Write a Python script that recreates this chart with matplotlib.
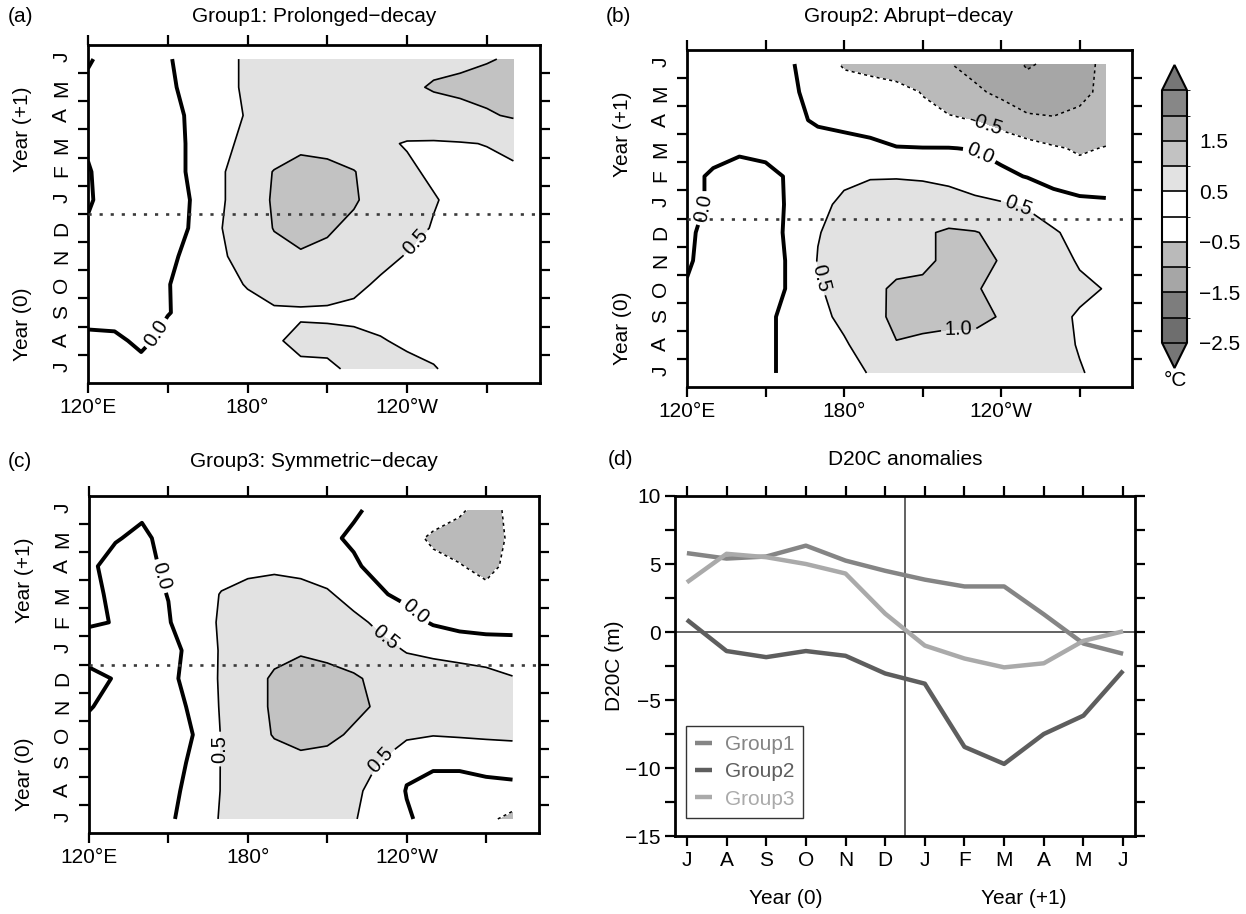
import numpy as np
import matplotlib
matplotlib.use("Agg")
import matplotlib.pyplot as plt
import matplotlib.transforms as mtransforms
from matplotlib.colors import ListedColormap, BoundaryNorm
from matplotlib.cm import ScalarMappable

plt.rcParams['font.family'] = ['Liberation Sans', 'DejaVu Sans']
plt.rcParams['axes.linewidth'] = 2.0

W, H = 1246, 914

# grid of the Hovmoller panels: 120E .. 80W every 10 deg, Jul(0) .. Jun(+1)
lons = np.arange(120, 290, 10)
months = np.arange(12)
month_labels = ['J', 'A', 'S', 'O', 'N', 'D', 'J', 'F', 'M', 'A', 'M', 'J']
lon_ticks = [120, 150, 180, 210, 240, 270]
lon_labels = ['120°E', '', '180°', '', '120°W', '']

sst_levels = [-2.5, -2.0, -1.5, -1.0, -0.5, 0.0, 0.5, 1.0, 1.5, 2.0, 2.5]
sst_colors = ['#6e6e6e', '#7d7d7d', '#a6a6a6', '#bababa', 'white',
              'white', '#e2e2e2', '#c2c2c2', '#a6a6a6', '#878787']
cbar_ticks = [-2.5, -1.5, -0.5, 0.5, 1.5]

# SST anomalies (degC), one row per month (Jul(0) first), one column per longitude
group1_sst = [
    [0.10, 0.15, 0.15, 0.20, 0.25, 0.30, 0.35, 0.40, 0.42, 0.45, 0.55, 0.60, 0.58, 0.52, 0.40, 0.30, 0.25],
    [0.10, 0.10, -0.10, 0.15, 0.25, 0.30, 0.38, 0.45, 0.60, 0.58, 0.58, 0.52, 0.45, 0.40, 0.35, 0.30, 0.25],
    [-0.15, -0.20, -0.15, -0.02, 0.15, 0.30, 0.40, 0.45, 0.45, 0.45, 0.42, 0.40, 0.35, 0.32, 0.30, 0.28, 0.25],
    [-0.15, -0.20, -0.15, -0.02, 0.20, 0.40, 0.52, 0.65, 0.70, 0.65, 0.58, 0.45, 0.40, 0.35, 0.30, 0.28, 0.25],
    [-0.10, -0.20, -0.15, -0.10, 0.15, 0.45, 0.65, 0.85, 0.95, 0.90, 0.80, 0.60, 0.48, 0.40, 0.35, 0.30, 0.25],
    [-0.05, -0.20, -0.15, -0.10, 0.03, 0.49, 0.70, 1.02, 1.15, 1.05, 0.90, 0.70, 0.60, 0.48, 0.40, 0.30, 0.25],
    [0.05, -0.20, -0.15, -0.10, 0.02, 0.45, 0.75, 1.05, 1.20, 1.15, 1.05, 0.80, 0.65, 0.52, 0.42, 0.35, 0.30],
    [0.03, -0.20, -0.15, -0.10, 0.05, 0.45, 0.75, 1.02, 1.15, 1.10, 1.02, 0.75, 0.55, 0.45, 0.42, 0.42, 0.45],
    [-0.05, -0.20, -0.15, -0.10, 0.05, 0.40, 0.60, 0.75, 0.90, 0.88, 0.70, 0.55, 0.48, 0.47, 0.48, 0.51, 0.58],
    [-0.10, -0.20, -0.15, -0.08, 0.05, 0.40, 0.52, 0.60, 0.65, 0.65, 0.65, 0.65, 0.70, 0.75, 0.85, 0.95, 1.05],
    [-0.10, -0.20, -0.15, -0.05, 0.10, 0.40, 0.55, 0.62, 0.65, 0.70, 0.75, 0.80, 0.90, 1.05, 1.10, 1.15, 1.15],
    [0.05, -0.20, -0.15, -0.03, 0.15, 0.40, 0.55, 0.62, 0.65, 0.70, 0.72, 0.75, 0.80, 0.85, 0.90, 0.97, 1.05],
]

group2_sst = [
    [-0.10, -0.15, -0.20, -0.08, 0.12, 0.25, 0.38, 0.52, 0.70, 0.75, 0.75, 0.72, 0.70, 0.65, 0.58, 0.52, 0.42],
    [-0.10, -0.15, -0.20, -0.10, 0.15, 0.30, 0.45, 0.70, 0.98, 0.90, 0.88, 0.90, 0.85, 0.75, 0.60, 0.48, 0.38],
    [-0.10, -0.15, -0.20, -0.10, 0.15, 0.38, 0.60, 0.85, 1.10, 1.15, 1.10, 1.08, 0.98, 0.80, 0.62, 0.45, 0.35],
    [-0.02, -0.10, -0.20, -0.15, 0.05, 0.45, 0.70, 0.92, 1.05, 1.05, 1.08, 1.03, 0.90, 0.80, 0.70, 0.60, 0.48],
    [0.03, -0.10, -0.20, -0.15, 0.05, 0.52, 0.68, 0.80, 0.90, 0.95, 1.05, 1.10, 0.98, 0.85, 0.70, 0.45, 0.30],
    [0.05, -0.10, -0.20, -0.15, 0.08, 0.48, 0.65, 0.75, 0.85, 0.95, 1.05, 1.02, 0.90, 0.72, 0.55, 0.35, 0.25],
    [0.10, -0.05, -0.15, -0.12, 0.05, 0.40, 0.58, 0.65, 0.70, 0.75, 0.72, 0.62, 0.55, 0.45, 0.25, 0.15, 0.12],
    [0.10, -0.05, -0.12, -0.10, 0.05, 0.30, 0.42, 0.48, 0.48, 0.45, 0.38, 0.25, 0.10, -0.02, -0.20, -0.35, -0.40],
    [0.15, 0.12, 0.05, 0.10, 0.12, 0.10, 0.08, 0.06, 0.02, 0.01, 0.01, -0.02, -0.15, -0.30, -0.45, -0.55, -0.48],
    [0.15, 0.15, 0.12, 0.10, 0.05, -0.03, -0.06, -0.10, -0.30, -0.38, -0.45, -0.51, -0.70, -0.90, -0.95, -0.90, -0.75],
    [0.15, 0.15, 0.10, 0.08, 0.06, -0.15, -0.30, -0.30, -0.35, -0.52, -0.70, -0.92, -1.10, -1.30, -1.30, -1.10, -0.90],
    [0.15, 0.15, 0.12, 0.10, 0.03, -0.25, -0.55, -0.65, -0.75, -0.85, -0.98, -1.15, -1.25, -1.55, -1.40, -1.15, -0.90],
]

group3_sst = [
    [-0.12, -0.15, -0.20, -0.05, 0.15, 0.55, 0.68, 0.75, 0.75, 0.68, 0.53, 0.30, 0.05, -0.15, -0.25, -0.38, -0.65],
    [-0.12, -0.15, -0.20, -0.08, 0.10, 0.52, 0.70, 0.80, 0.82, 0.75, 0.58, 0.35, -0.02, -0.12, -0.12, -0.10, -0.10],
    [-0.12, -0.15, -0.20, -0.10, 0.05, 0.52, 0.75, 0.88, 0.92, 0.88, 0.72, 0.48, 0.08, 0.05, 0.05, 0.10, 0.15],
    [-0.10, -0.15, -0.20, -0.12, 0.01, 0.52, 0.85, 1.02, 1.10, 1.08, 0.95, 0.75, 0.60, 0.52, 0.55, 0.58, 0.60],
    [0.02, -0.10, -0.20, -0.10, 0.05, 0.55, 0.85, 1.05, 1.15, 1.15, 1.08, 0.95, 0.80, 0.72, 0.70, 0.68, 0.60],
    [0.10, -0.02, -0.20, -0.12, 0.20, 0.55, 0.85, 1.05, 1.12, 1.10, 1.05, 0.90, 0.70, 0.62, 0.60, 0.58, 0.52],
    [-0.15, -0.15, -0.20, -0.15, 0.15, 0.55, 0.75, 0.90, 0.97, 0.92, 0.80, 0.62, 0.48, 0.45, 0.42, 0.38, 0.30],
    [0.03, -0.01, -0.15, -0.03, 0.30, 0.55, 0.65, 0.70, 0.72, 0.70, 0.60, 0.42, 0.20, -0.05, -0.20, -0.28, -0.25],
    [0.10, -0.08, -0.12, 0.01, 0.30, 0.52, 0.60, 0.62, 0.60, 0.55, 0.35, 0.05, -0.12, -0.25, -0.30, -0.40, -0.30],
    [0.05, -0.10, -0.08, 0.05, 0.25, 0.35, 0.42, 0.45, 0.42, 0.30, 0.05, -0.12, -0.30, -0.42, -0.48, -0.60, -0.40],
    [0.12, 0.02, -0.06, 0.10, 0.18, 0.22, 0.25, 0.25, 0.18, 0.06, -0.05, -0.25, -0.40, -0.55, -0.65, -0.70, -0.42],
    [0.15, 0.10, 0.05, 0.15, 0.20, 0.22, 0.25, 0.25, 0.20, 0.12, 0.04, -0.08, -0.20, -0.35, -0.45, -0.65, -0.40],
]

# D20C anomalies (m), Jul(0) .. Jun(+1)
d20c_group1 = [5.8, 5.4, 5.55, 6.35, 5.25, 4.5, 3.85, 3.35, 3.35, 1.3, -0.85, -1.6]
d20c_group2 = [0.9, -1.4, -1.85, -1.4, -1.75, -3.05, -3.8, -8.45, -9.7, -7.5, -6.15, -2.85]
d20c_group3 = [3.65, 5.75, 5.5, 5.0, 4.3, 1.35, -1.0, -1.95, -2.6, -2.3, -0.65, 0.05]
group_names = ['Group1', 'Group2', 'Group3']
group_colors = ['#858585', '#5e5e5e', '#aaaaaa']

cmap = ListedColormap(sst_colors)
cmap.set_under('#767676')
cmap.set_over('#767676')
norm = BoundaryNorm(sst_levels, len(sst_colors))


def rect(x0, y0, x1, y1):
    return [x0 / W, 1 - y1 / H, (x1 - x0) / W, (y1 - y0) / H]


fig = plt.figure(figsize=(W / 100, H / 100), dpi=100)


def hovmoller(ax, left_px, field, zero_pts, pos_pts, neg_pts):
    z = np.array(field)
    ax.contourf(lons, months, z, levels=sst_levels, cmap=cmap, norm=norm, extend='both')
    neg = [l for l in (-1.5, -1.0, -0.5) if z.min() < l]
    if neg:
        cn = ax.contour(lons, months, z, levels=neg, colors='black',
                        linewidths=1.1, linestyles=[(0, (2.0, 2.2))])
        if neg_pts:
            ax.clabel(cn, fmt='%.1f', fontsize=14.5, manual=neg_pts)
    cz = ax.contour(lons, months, z, levels=[0.0], colors='black', linewidths=2.8)
    ax.clabel(cz, fmt='%.1f', fontsize=14.5, manual=zero_pts)
    pos = [l for l in (0.5, 1.0, 1.5) if z.max() > l]
    cp = ax.contour(lons, months, z, levels=pos, colors='black', linewidths=1.2)
    ax.clabel(cp, fmt='%.1f', fontsize=14.5, manual=pos_pts)
    ax.axhline(5.5, color='#3a3a3a', lw=1.9, ls=(0, (1.2, 3.0)), zorder=3)

    ax.set_xlim(120, 290)
    ax.set_ylim(-0.5, 11.5)
    ax.set_xticks(lon_ticks, lon_labels)
    ax.set_yticks(np.arange(0.5, 11.0, 1.0))
    ax.set_yticks(months, month_labels, minor=True)
    ax.tick_params(which='major', direction='out', length=7, width=1.6,
                   top=True, right=True, labelsize=15, labelleft=False)
    ax.tick_params(axis='y', which='minor', length=0, labelsize=15, pad=12,
                   labelrotation=90, left=False, right=False)
    trans = mtransforms.blended_transform_factory(fig.transFigure, ax.transData)
    xpos = (left_px - 65) / W
    ax.text(xpos, 8.5, 'Year (+1)', rotation=90, ha='center', va='center',
            fontsize=15, transform=trans)
    ax.text(xpos, 1.6, 'Year (0)', rotation=90, ha='center', va='center',
            fontsize=15, transform=trans)


ax_a = fig.add_axes(rect(88, 45, 540, 383))
hovmoller(ax_a, 88, group1_sst, [(146, 1.25)], [(242.5, 4.55)], [])

ax_b = fig.add_axes(rect(687, 50, 1132, 387))
hovmoller(ax_b, 687, group2_sst, [(126.7, 5.85), (232.7, 7.95)],
          [(246.6, 5.97), (170.5, 3.35), (223.8, 1.67)], [(234, 8.9)])

ax_c = fig.add_axes(rect(89, 496, 539, 833))
hovmoller(ax_c, 89, group3_sst, [(147, 8.64), (242.8, 7.34)],
          [(232, 6.45), (169.7, 2.49), (230, 2.13)], [])

# colour bar beside panel (b); the axes includes the two end triangles
cax = fig.add_axes(rect(1162, 65, 1187, 368))
sm = ScalarMappable(norm=norm, cmap=cmap)
cb = fig.colorbar(sm, cax=cax, extend='both', extendfrac=0.1, drawedges=True,
                  ticks=cbar_ticks)
cb.ax.set_yticklabels(['\u22122.5', '\u22121.5', '\u22120.5', '0.5', '1.5'])
cb.ax.tick_params(length=0, labelsize=15, pad=9)
cb.outline.set_linewidth(1.5)
cb.dividers.set_color('black')
cb.dividers.set_linewidth(1.2)
fig.text(1175 / W, 1 - 380 / H, '°C', ha='center', va='center', fontsize=15)

# panel (d): D20C time series
ax_d = fig.add_axes(rect(675, 496, 1135, 836))
for vals, name, col in zip([d20c_group1, d20c_group2, d20c_group3], group_names, group_colors):
    ax_d.plot(months, vals, color=col, lw=3.2, label=name, solid_capstyle='butt')
ax_d.axhline(0, color='#555555', lw=1.3, zorder=1)
ax_d.axvline(5.5, color='#555555', lw=1.3, zorder=1)
ax_d.set_xlim(-0.3, 11.3)
ax_d.set_ylim(-15, 10)
ax_d.set_xticks(months, month_labels)
ax_d.set_yticks([-15, -10, -5, 0, 5, 10])
ax_d.set_yticks(np.arange(-12.5, 10, 5), minor=True)
ax_d.tick_params(which='both', direction='out', length=7, width=1.6,
                 top=True, right=True, labelsize=15)
leg = ax_d.legend(loc='lower left', bbox_to_anchor=(0.024, 0.053), frameon=True,
                  fancybox=False, edgecolor='black', fontsize=15, handlelength=0.8,
                  handletextpad=0.6, borderpad=0.45, labelspacing=0.4, borderaxespad=0)
leg.get_frame().set_linewidth(1.0)
for t, col in zip(leg.get_texts(), group_colors):
    t.set_color(col)
fig.text(614 / W, 1 - 666 / H, 'D20C (m)', rotation=90, ha='center', va='center', fontsize=15)
trans_d = mtransforms.blended_transform_factory(ax_d.transData, fig.transFigure)
ax_d.text(2.5, 1 - 898 / H, 'Year (0)', ha='center', va='center', fontsize=15, transform=trans_d)
ax_d.text(8.5, 1 - 898 / H, 'Year (+1)', ha='center', va='center', fontsize=15, transform=trans_d)

# titles and panel letters
for x, y, s in [(314, 16, 'Group1: Prolonged\u2212decay'),
                (909, 16, 'Group2: Abrupt\u2212decay'),
                (314, 461, 'Group3: Symmetric\u2212decay'),
                (905, 460, 'D20C anomalies')]:
    fig.text(x / W, 1 - y / H, s, ha='center', va='center', fontsize=15)
for x, y, s in [(8, 16, '(a)'), (606, 16, '(b)'), (8, 461, '(c)'), (608, 460, '(d)')]:
    fig.text(x / W, 1 - y / H, s, ha='left', va='center', fontsize=15)

fig.savefig('out.png', dpi=100)
